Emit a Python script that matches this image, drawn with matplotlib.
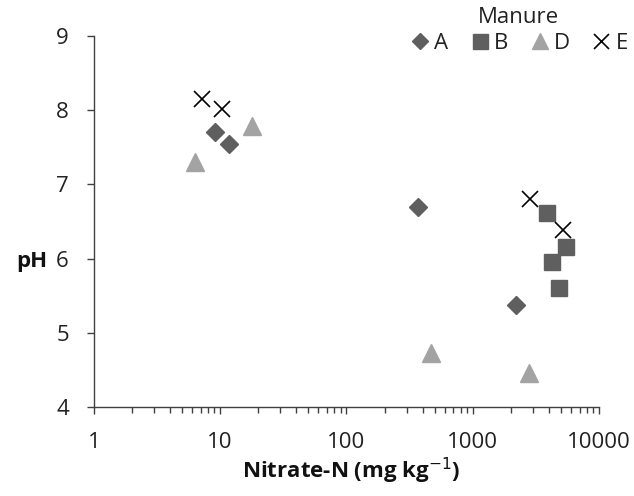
import matplotlib
matplotlib.use("Agg")
import matplotlib.pyplot as plt
from matplotlib.ticker import LogLocator, NullFormatter

plt.rcParams['font.family'] = ['Open Sans', 'DejaVu Sans']

# Data (Nitrate-N mg/kg, pH) by manure
A_x = [9.1, 11.7, 368, 2200]
A_y = [7.70, 7.55, 6.70, 5.37]
B_x = [3850, 5480, 4270, 4790]
B_y = [6.61, 6.15, 5.96, 5.61]
D_x = [6.3, 17.9, 470, 2806]
D_y = [7.30, 7.79, 4.73, 4.46]
E_x = [7.2, 10.3, 2846, 5210]
E_y = [8.15, 8.02, 6.81, 6.38]

x_ticks = [1, 10, 100, 1000, 10000]
x_labels = ['1', '10', '100', '1000', '10000']
y_ticks = [4, 5, 6, 7, 8, 9]

dark = '#5f5f5f'
light = '#a3a3a3'
axc = '#404040'

fig = plt.figure(figsize=(6.34, 4.96), dpi=100)
ax = fig.add_axes([0.148, 0.1794, 0.797, 0.748])

ax.plot(A_x, A_y, linestyle='none', marker='D', ms=9.3, color=dark, mec=dark, label='A')
ax.plot(B_x, B_y, linestyle='none', marker='s', ms=12, color=dark, mec=dark, label='B')
ax.plot(D_x, D_y, linestyle='none', marker='^', ms=13, color=light, mec=light, label='D')
ax.plot(E_x, E_y, linestyle='none', marker='x', ms=12, mew=1.2, color='black', label='E')

ax.set_xscale('log')
ax.set_xlim(1, 10000)
ax.set_ylim(4, 9)
ax.set_xticks(x_ticks)
ax.set_xticklabels(x_labels)
ax.xaxis.set_minor_locator(LogLocator(base=10, subs=range(2, 10)))
ax.xaxis.set_minor_formatter(NullFormatter())
ax.set_yticks(y_ticks)

for s in ['top', 'right']:
    ax.spines[s].set_visible(False)
for s in ['left', 'bottom']:
    ax.spines[s].set_color(axc)
    ax.spines[s].set_linewidth(1.0)

ax.tick_params(axis='x', which='major', direction='out', length=5, width=1, color=axc, labelsize=16, pad=13, labelcolor='#222222')
ax.tick_params(axis='x', which='minor', direction='out', length=4.5, width=1, color=axc)
ax.tick_params(axis='y', which='major', direction='out', length=5, width=1, color=axc, labelsize=16, pad=13, labelcolor='#222222')

ax.set_xlabel('Nitrate-N (mg kg$^{-1}$)', fontsize=16, fontweight='bold', va='center', color='#111111')
ax.xaxis.set_label_coords(0.51, -0.172)
ax.set_ylabel('pH', fontsize=16, fontweight='bold', rotation=0, ha='center', va='center', color='#111111')
ax.yaxis.set_label_coords(-0.123, 0.392)

leg = ax.legend(title='Manure', ncol=4, frameon=False, loc='upper right',
                bbox_to_anchor=(1.057, 1.078), fontsize=16, title_fontsize=16,
                handletextpad=0.15, columnspacing=0.9, handlelength=1.0,
                labelspacing=0.2, borderaxespad=0, borderpad=0, markerscale=0.9)
for t in leg.get_texts():
    t.set_color('#222222')
leg.get_title().set_color('#222222')

fig.savefig('out.png', dpi=100)
